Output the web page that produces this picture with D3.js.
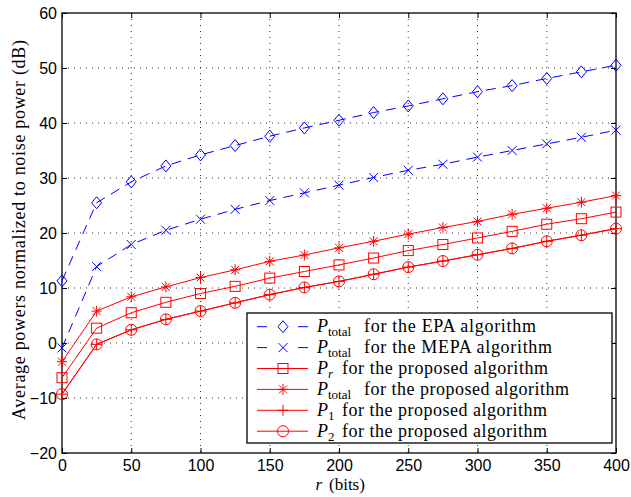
<!DOCTYPE html>
<html>
<head>
<meta charset="utf-8">
<script src="https://cdn.jsdelivr.net/npm/d3@7"></script>
<style>
  body { margin: 0; background: #fff; }
  svg { display: block; }
</style>
</head>
<body>
<svg width="631" height="497"></svg>
<script>
// r values (bits)
let rBits = [0, 25, 50, 75, 100, 125, 150, 175, 200, 225, 250, 275, 300, 325, 350, 375, 400];

// series (dB)
let epaTotal  = [11.3, 25.5, 29.3, 32.2, 34.2, 35.9, 37.6, 39.1, 40.5, 41.9, 43.1, 44.4, 45.7, 46.8, 48.1, 49.3, 50.5];
let mepaTotal = [-0.9, 13.9, 17.9, 20.5, 22.5, 24.3, 25.9, 27.3, 28.7, 30.1, 31.4, 32.5, 33.8, 35.0, 36.2, 37.4, 38.7];
let propPr    = [-6.3, 2.7, 5.5, 7.4, 9.0, 10.3, 11.8, 13.0, 14.2, 15.45, 16.8, 17.9, 19.1, 20.3, 21.6, 22.6, 23.8];
let propTotal = [-3.4, 5.8, 8.4, 10.2, 11.9, 13.3, 14.85, 16.0, 17.3, 18.5, 19.8, 21.0, 22.1, 23.4, 24.5, 25.6, 26.8];
let propP1    = [-9.3, -0.25, 2.4, 4.3, 5.8, 7.3, 8.8, 10.1, 11.2, 12.5, 13.8, 14.9, 16.05, 17.2, 18.5, 19.6, 20.8];
let propP2    = [-9.3, -0.25, 2.4, 4.3, 5.8, 7.3, 8.8, 10.1, 11.2, 12.5, 13.8, 14.9, 16.05, 17.2, 18.5, 19.6, 20.8];

let xTicks = [0, 50, 100, 150, 200, 250, 300, 350, 400];
let yTicks = [-20, -10, 0, 10, 20, 30, 40, 50, 60];

let svg = d3.select("svg"),
	pLeft = 62, pRight = 616, pTop = 13, pBottom = 453;

let x = d3.scaleLinear().domain([0, 400]).range([pLeft, pRight]);
let y = d3.scaleLinear().domain([-20, 60]).range([pBottom, pTop]);

let blue = '#0000ff', red = '#ff0000';

// legend text: subscript, the rest, where "for" starts and its width
let series = [
	{ vals: epaTotal,  color: blue, dash: '10,7', mark: 'diamond', sub: 'total', text: 'for the EPA algorithm',      tx: 364, tw: 172 },
	{ vals: mepaTotal, color: blue, dash: '10,7', mark: 'x',       sub: 'total', text: 'for the MEPA algorithm',     tx: 364, tw: 188 },
	{ vals: propPr,    color: red,  dash: null,   mark: 'square',  sub: 'r',     text: 'for the proposed algorithm', tx: 342, tw: 206, subItalic: true },
	{ vals: propTotal, color: red,  dash: null,   mark: 'star',    sub: 'total', text: 'for the proposed algorithm', tx: 364, tw: 205 },
	{ vals: propP1,    color: red,  dash: null,   mark: 'plus',    sub: '1',     text: 'for the proposed algorithm', tx: 342, tw: 205 },
	{ vals: propP2,    color: red,  dash: null,   mark: 'circle',  sub: '2',     text: 'for the proposed algorithm', tx: 342, tw: 205 }
];

// grid
let grid = svg.append("g").attr('class', 'grid');
grid.selectAll("line.gx").data(xTicks.slice(1, -1)).enter().append("line")
	.attr("x1", d => x(d)).attr("x2", d => x(d))
	.attr("y1", pTop).attr("y2", pBottom)
	.attr("stroke", "#000").attr("stroke-width", 0.8).attr("stroke-dasharray", "1,5");
grid.selectAll("line.gy").data(yTicks.slice(1, -1)).enter().append("line")
	.attr("y1", d => y(d)).attr("y2", d => y(d))
	.attr("x1", pLeft).attr("x2", pRight)
	.attr("stroke", "#000").attr("stroke-width", 0.8).attr("stroke-dasharray", "1,5");

// axes, ticks pointing inwards on all four sides
let axFont = "'Liberation Sans', Arial, Helvetica, sans-serif";
let styleAxis = (g) => {
	g.select(".domain").remove();
	g.selectAll(".tick line").attr("stroke", "#000");
	g.selectAll(".tick text").attr("font-family", axFont).attr("font-size", 16).attr("fill", "#000");
};
svg.append("g").attr("transform", `translate(0,${pBottom})`)
	.call(d3.axisBottom(x).tickValues(xTicks).tickSize(-5).tickPadding(7).tickFormat(d3.format("d")))
	.call(styleAxis);
svg.append("g").attr("transform", `translate(0,${pTop})`)
	.call(d3.axisTop(x).tickValues(xTicks).tickSize(-5).tickFormat(""))
	.call(styleAxis);
svg.append("g").attr("transform", `translate(${pLeft},0)`)
	.call(d3.axisLeft(y).tickValues(yTicks).tickSize(-5).tickPadding(5).tickFormat(d => d < 0 ? "\u2212" + (-d) : d))
	.call(styleAxis);
svg.append("g").attr("transform", `translate(${pRight},0)`)
	.call(d3.axisRight(y).tickValues(yTicks).tickSize(-5).tickFormat(""))
	.call(styleAxis);

svg.append("rect").attr("x", pLeft).attr("y", pTop)
	.attr("width", pRight - pLeft).attr("height", pBottom - pTop)
	.attr("fill", "none").attr("stroke", "#000").attr("stroke-width", 1.3);

// markers
let drawMark = (g, type, cx, cy, color) => {
	let m = g.append("g").attr("transform", `translate(${cx},${cy})`)
		.attr("fill", "none").attr("stroke", color).attr("stroke-width", 1);
	if (type === 'diamond') m.append("path").attr("d", "M0,-6L5,0L0,6L-5,0Z");
	if (type === 'square') m.append("rect").attr("x", -5).attr("y", -5).attr("width", 10).attr("height", 10);
	if (type === 'circle') m.append("circle").attr("r", 5.5);
	if (type === 'x') m.append("path").attr("d", "M-4.5,-4.5L4.5,4.5M-4.5,4.5L4.5,-4.5");
	if (type === 'plus') m.append("path").attr("d", "M-5.5,0L5.5,0M0,-5.5L0,5.5");
	if (type === 'star') m.append("path").attr("d", "M-5,0L5,0M0,-5.5L0,5.5M-4,-4L4,4M-4,4L4,-4");
};

let line = d3.line().x(d => x(d[0])).y(d => y(d[1]));
let plot = svg.append("g").attr('class', 'obj');
series.forEach(s => {
	let pts = rBits.map((r, i) => [r, s.vals[i]]);
	plot.append("path").datum(pts)
		.attr("d", line).attr("fill", "none")
		.attr("stroke", s.color).attr("stroke-width", 1)
		.attr("stroke-dasharray", s.dash);
	pts.forEach(p => drawMark(plot, s.mark, x(p[0]), y(p[1]), s.color));
});

// legend
let serif = "'Liberation Serif', 'Times New Roman', serif";
let lg = svg.append("g").attr('class', 'legend');
let lx = 247, ly = 313, lw = 365, lh = 130, rowH = 20.9;
lg.append("rect").attr("x", lx).attr("y", ly).attr("width", lw).attr("height", lh)
	.attr("fill", "#fff").attr("stroke", "#000").attr("stroke-width", 1.3);
series.forEach((s, i) => {
	let yy = ly + 13.7 + i * rowH;
	lg.append("line").attr("x1", lx + 10).attr("x2", lx + 61).attr("y1", yy).attr("y2", yy)
		.attr("stroke", s.color).attr("stroke-width", 1)
		.attr("stroke-dasharray", s.dash ? "10,31" : null);
	drawMark(lg, s.mark, lx + 36, yy, s.color);
	let t = lg.append("text").attr("x", lx + 70).attr("y", yy + 5.5)
		.attr("font-family", serif).attr("font-size", 18).attr("fill", "#000");
	t.append("tspan").attr("font-style", "italic").text("P");
	t.append("tspan").attr("font-size", 13).attr("dy", 4)
		.attr("font-style", s.subItalic ? "italic" : null).text(s.sub);
	lg.append("text").attr("x", s.tx).attr("y", yy + 5.5)
		.attr("font-family", serif).attr("font-size", 18).attr("fill", "#000")
		.attr("textLength", s.tw).attr("lengthAdjust", "spacing")
		.text(s.text);
});

// axis labels
svg.append("text").attr("x", 322).attr("y", 490).attr("text-anchor", "end")
	.attr("font-family", serif).attr("font-size", 17).attr("font-style", "italic").text("r");
svg.append("text").attr("x", 329).attr("y", 490)
	.attr("font-family", serif).attr("font-size", 17).text("(bits)");

svg.append("text").attr("transform", `translate(25,230) rotate(-90)`)
	.attr("text-anchor", "middle").attr("font-family", serif).attr("font-size", 18)
	.attr("textLength", 380).attr("lengthAdjust", "spacing")
	.text("Average powers normalized to noise power (dB)");
</script>
</body>
</html>
